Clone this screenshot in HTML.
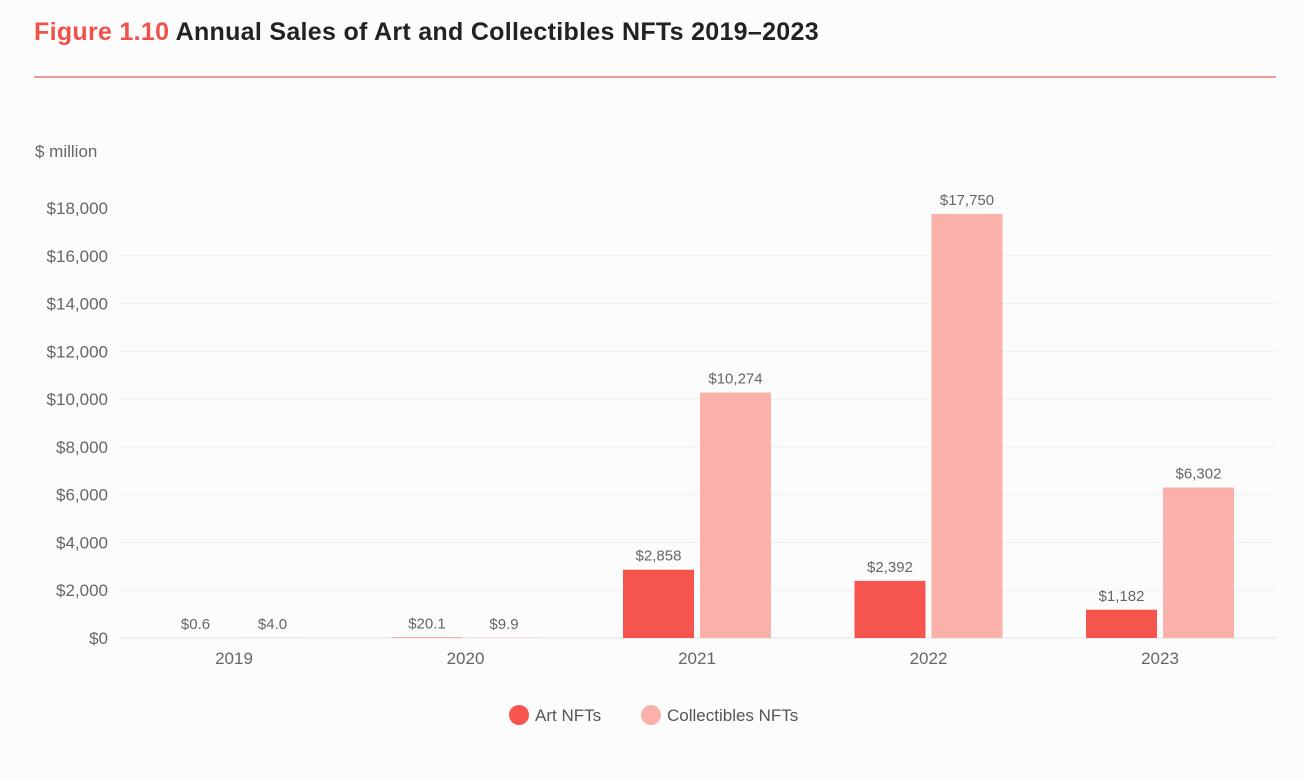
<!DOCTYPE html>
<html><head><meta charset="utf-8"><style>
body{margin:0;background:#fcfcfc;}
svg{display:block;font-family:"Liberation Sans",sans-serif;}
</style></head><body>
<svg id="chart" width="1303" height="779">
<rect width="1303" height="779" fill="#fcfcfc"/>
<text x="34" y="40" font-size="25" font-weight="bold" letter-spacing="0.3"><tspan fill="#f0524b">Figure 1.10</tspan><tspan fill="#222"> Annual Sales of Art and Collectibles NFTs 2019–2023</tspan></text>
<line x1="34" y1="77" x2="1276" y2="77" stroke="#f29a94" stroke-width="2"/>
<text x="35" y="157" font-size="17" fill="#666">$ million</text>
<g id="grid"></g><g id="bars"></g>
<g>
<circle cx="519" cy="715" r="10" fill="#f5554c"/>
<text x="535" y="721" font-size="17" fill="#555">Art NFTs</text>
<circle cx="651" cy="715" r="10" fill="#fab1aa"/>
<text x="667" y="721" font-size="17" fill="#555">Collectibles NFTs</text>
</g>
</svg>
<script>
const categories=["2019","2020","2021","2022","2023"];
const artValues=[0.6,20.1,2858,2392,1182];
const collectiblesValues=[4.0,9.9,10274,17750,6302];
const artLabels=["$0.6","$20.1","$2,858","$2,392","$1,182"];
const collectiblesLabels=["$4.0","$9.9","$10,274","$17,750","$6,302"];
const yTicks=[0,2000,4000,6000,8000,10000,12000,14000,16000,18000];
const yTickLabels=["$0","$2,000","$4,000","$6,000","$8,000","$10,000","$12,000","$14,000","$16,000","$18,000"];
const NS="http://www.w3.org/2000/svg";
const y0=638,yTop=208,yMax=18000;
function yScale(v){return y0-(v/yMax)*(y0-yTop);}
const bandStart=118.25,band=231.5;
function xCenter(i){return bandStart+band*(i+0.5);}
function mk(tag,attrs,parent){const e=document.createElementNS(NS,tag);for(const k in attrs)e.setAttribute(k,attrs[k]);parent.appendChild(e);return e;}
const grid=document.getElementById('grid'),bars=document.getElementById('bars');
yTicks.forEach((t,i)=>{
 const l=mk('line',{x1:120,x2:1276,y1:yScale(t),y2:yScale(t),stroke:i==0?'#e2e2e2':'#efefef','stroke-width':1},grid);
 
 
 const tx=mk('text',{x:108,y:yScale(t)+6,'text-anchor':'end','font-size':17,fill:'#666'},grid);
 tx.textContent=yTickLabels[i];
 
 
});
const bw=71,gap=6;
categories.forEach((c,i)=>{
 const cx=xCenter(i);
 const ax=cx-gap/2-bw,cxr=cx+gap/2;
 const ya=yScale(artValues[i]),yc=yScale(collectiblesValues[i]);
 const r1=mk('rect',{x:ax,y:ya,width:bw,height:y0-ya,fill:'#f5554c'},bars);
 
 
 const r2=mk('rect',{x:cxr,y:yc,width:bw,height:y0-yc,fill:'#fab1aa'},bars);
 
 
 const t1=mk('text',{x:ax+bw/2,y:Math.min(ya,y0)-9,'text-anchor':'middle','font-size':15,fill:'#666'},bars);
 t1.textContent=artLabels[i];
 
 
 const t2=mk('text',{x:cxr+bw/2,y:Math.min(yc,y0)-9,'text-anchor':'middle','font-size':15,fill:'#666'},bars);
 t2.textContent=collectiblesLabels[i];
 
 
 const xl=mk('text',{x:cx,y:664,'text-anchor':'middle','font-size':17,fill:'#666'},bars);
 xl.textContent=c;
 
 
});
</script>
</body></html>
